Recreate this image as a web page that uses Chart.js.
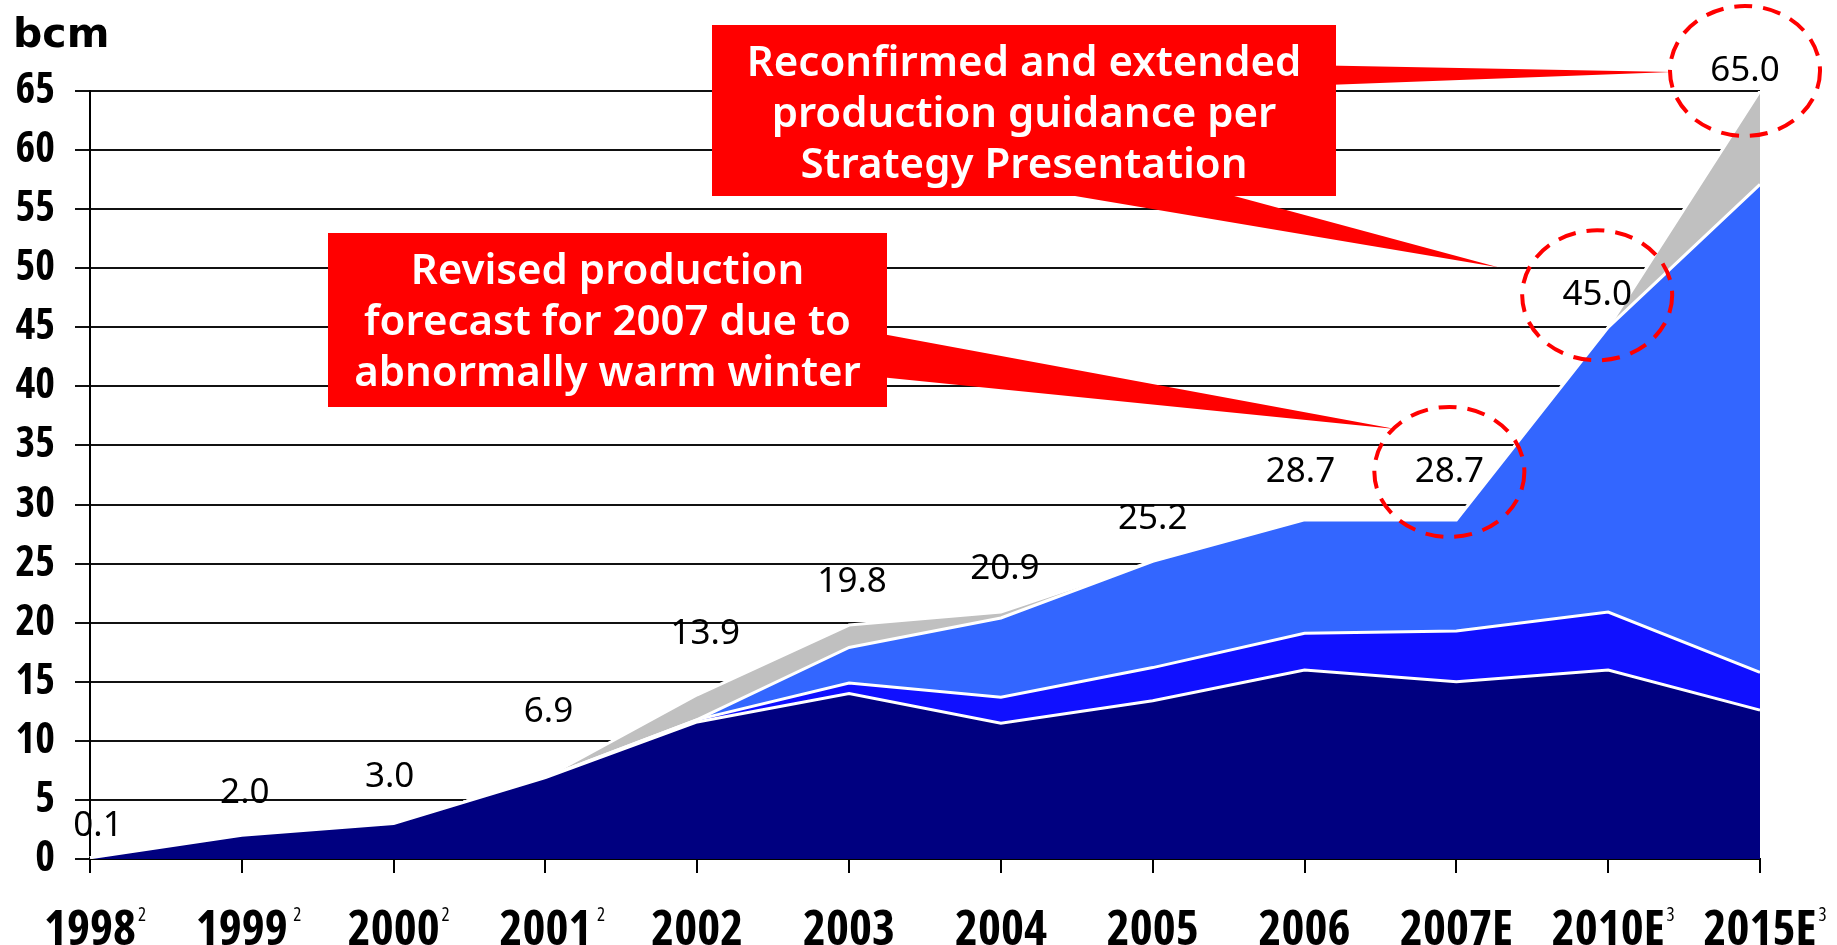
<!DOCTYPE html>
<html lang="en">
<head>
  <meta charset="UTF-8">
  <title>Production, bcm</title>
  <script src="https://cdn.jsdelivr.net/npm/chart.js"></script>
  <style>
    body {
      margin: 0;
      background: #fff;
    }

    canvas {
      display: block;
    }
  </style>
</head>
<body>
  <canvas id="prodChart" width="1837" height="945"></canvas>

  <script>
    // categories and footnote markers
    const years = ['1998', '1999', '2000', '2001', '2002', '2003', '2004', '2005', '2006', '2007E', '2010E', '2015E'];
    const yearNotes = ['2', ' 2', '2', ' 2', '', '', '', '', '', '', '3', '3'];

    // stacked layers, bottom to top (bcm)
    const seriesNavy = [0.1, 2.0, 3.0, 6.9, 11.6, 14.0, 11.5, 13.4, 16.0, 15.0, 16.0, 12.6];
    const seriesBlue = [0, 0, 0, 0, 0.2, 0.9, 2.2, 2.8, 3.1, 4.3, 4.9, 3.2];
    const seriesLightBlue = [0, 0, 0, 0, 0, 3.0, 6.7, 9.0, 9.6, 9.4, 24.1, 41.3];
    const seriesGrey = [0, 0, 0, 0, 2.1, 1.9, 0.5, 0, 0, 0, 0, 7.9];

    // labelled totals
    const totals = [0.1, 2.0, 3.0, 6.9, 13.9, 19.8, 20.9, 25.2, 28.7, 28.7, 45.0, 65.0];

    // y axis
    const yMin = 0;
    const yMax = 65;
    const yStep = 5;

    // callout texts
    const calloutRevised = ['Revised production', 'forecast for 2007 due to', 'abnormally warm winter'];
    const calloutGuidance = ['Reconfirmed and extended', 'production guidance per', 'Strategy Presentation'];

    // ---- layout (pixels) ----
    const labelNudge = [[8, -32], [3, -42], [-4, -47], [3, -65], [8, -61], [3, -43], [4, -43], [0, -42], [-4, -48], [-7, -48], [-11, -32], [-15, -20]];
    const circled = [9, 10, 11];

    const boxes = [
      { x: 328, y: 233, w: 559, h: 174, lines: calloutRevised },
      { x: 712, y: 25, w: 624, h: 171, lines: calloutGuidance }
    ];
    // wedge base points (under the boxes) and tip offset from the circled label
    const wedges = [
      { base: [[850, 328], [850, 374]], target: 9, tip: [-54, -43] },
      { base: [[980, 180], [1175, 180]], target: 10, tip: [-99, -28] },
      { base: [[1300, 65], [1300, 86]], target: 11, tip: [-73, 1] }
    ];

    // the axis labels use a tall narrow bold face; take whichever installed one fits best
    function pickNarrowBold() {
      const c = document.createElement('canvas').getContext('2d');
      const candidates = [
        { weight: 'bold', stretch: '', family: "'Liberation Sans Narrow'" },
        { weight: 'bold', stretch: 'condensed', family: "'Liberation Sans'" },
        { weight: 'bold', stretch: 'condensed', family: "'Noto Sans'" },
        { weight: 'bold', stretch: 'condensed', family: "'Open Sans'" },
        { weight: 'bold', stretch: 'condensed', family: "'DejaVu Sans'" },
        { weight: 'bold', stretch: '', family: "'DejaVu Sans Condensed'" },
        { weight: 'bold', stretch: '', family: "'Liberation Sans'" }
      ];
      let best = null;
      candidates.forEach(f => {
        c.font = `${f.weight} ${f.stretch} 100px ${f.family}`.replace(/\s+/g, ' ');
        const m = c.measureText('2002');
        const cap = m.actualBoundingBoxAscent;
        const score = Math.abs(m.width / cap - 2.7);
        if (!best || score < best.score) best = Object.assign({ score: score, cap: cap / 100 }, f);
      });
      return best;
    }

    const narrow = pickNarrowBold();
    const narrowWeight = `${narrow.weight} ${narrow.stretch}`.trim();
    const xFontSize = Math.round(36 / narrow.cap);
    const yFontSize = Math.round(30.5 / narrow.cap);
    const axisFontX = { family: narrow.family, size: xFontSize, weight: narrowWeight };
    const axisFontY = { family: narrow.family, size: yFontSize, weight: narrowWeight };

    // padding so the year labels' cap tops sit at y = 909
    const xLabelPad = (() => {
      const c = document.createElement('canvas').getContext('2d');
      c.font = `${narrowWeight} ${xFontSize}px ${narrow.family}`;
      c.textBaseline = 'middle';
      const asc = c.measureText('2002').actualBoundingBoxAscent;
      return Math.round(909 - 873 - xFontSize * 0.6 + asc);
    })();

    function labelPos(chart, i) {
      const { x, y } = chart.scales;
      return [x.getPixelForValue(i) + labelNudge[i][0], y.getPixelForValue(totals[i]) + labelNudge[i][1]];
    }

    const overlay = {
      id: 'overlay',
      afterDraw(chart) {
        const ctx = chart.ctx;
        const xs = chart.scales.x;
        ctx.save();

        // unit
        ctx.fillStyle = '#000';
        ctx.font = 'bold 41px "DejaVu Sans"';
        ctx.textAlign = 'left';
        ctx.textBaseline = 'alphabetic';
        ctx.fillText('bcm', 13, 47);

        // footnote superscripts on the year labels
        years.forEach((yr, i) => {
          if (!yearNotes[i]) return;
          ctx.font = `${narrowWeight} ${xFontSize}px ${narrow.family}`;
          const w = ctx.measureText(yr).width;
          ctx.font = `${narrow.stretch} 19px ${narrow.family}`.trim();
          ctx.textBaseline = 'top';
          ctx.textAlign = 'left';
          ctx.fillText(yearNotes[i], xs.getPixelForValue(i) + w / 2 + 2, 906);
        });

        // callout wedges
        ctx.fillStyle = '#ff0000';
        wedges.forEach(wd => {
          const c = labelPos(chart, wd.target);
          ctx.beginPath();
          ctx.moveTo(wd.base[0][0], wd.base[0][1]);
          ctx.lineTo(c[0] + wd.tip[0], c[1] + wd.tip[1]);
          ctx.lineTo(wd.base[1][0], wd.base[1][1]);
          ctx.closePath();
          ctx.fill();
        });

        // callout boxes
        boxes.forEach(b => {
          ctx.fillStyle = '#ff0000';
          ctx.fillRect(b.x, b.y, b.w, b.h);
          ctx.fillStyle = '#fff';
          ctx.font = '600 42px "Noto Sans"';
          ctx.textAlign = 'center';
          ctx.textBaseline = 'alphabetic';
          b.lines.forEach((line, k) => {
            ctx.fillText(line, b.x + b.w / 2, b.y + 51 + k * 51);
          });
        });

        // total labels
        ctx.fillStyle = '#000';
        ctx.font = '35px "Noto Sans"';
        ctx.textAlign = 'center';
        ctx.textBaseline = 'middle';
        totals.forEach((v, i) => {
          const p = labelPos(chart, i);
          ctx.fillText(v.toFixed(1), p[0], p[1]);
        });

        // dashed circles
        ctx.strokeStyle = '#ff0000';
        ctx.lineWidth = 4;
        ctx.setLineDash([18, 11]);
        circled.forEach(i => {
          const p = labelPos(chart, i);
          ctx.beginPath();
          ctx.ellipse(p[0], p[1], 75, 65, 0, 0, Math.PI * 2);
          ctx.stroke();
        });

        ctx.restore();
      }
    };

    const layer = (data, colour, fill) => ({
      data: data,
      backgroundColor: colour,
      borderColor: '#ffffff',
      borderWidth: 3,
      pointRadius: 0,
      tension: 0,
      fill: fill
    });

    new Chart(document.getElementById('prodChart'), {
      type: 'line',
      data: {
        labels: years,
        datasets: [
          layer(seriesNavy, '#000080', 'origin'),
          layer(seriesBlue, '#1010ff', '-1'),
          layer(seriesLightBlue, '#3366ff', '-1'),
          layer(seriesGrey, '#c0c0c0', '-1')
        ]
      },
      options: {
        responsive: false,
        animation: false,
        layout: {
          padding: { top: 91, right: 77, left: 0, bottom: 0 }
        },
        plugins: {
          legend: { display: false },
          tooltip: { enabled: false }
        },
        scales: {
          x: {
            offset: false,
            z: 1,
            grid: {
              drawOnChartArea: false,
              tickLength: 14,
              color: '#000',
              lineWidth: 2
            },
            border: { color: '#000', width: 2 },
            ticks: {
              color: '#000',
              font: axisFontX,
              padding: xLabelPad,
              maxRotation: 0,
              autoSkip: false
            },
            afterFit(scale) {
              scale.height = 86;
              scale.paddingLeft = 0;
              scale.paddingRight = 0;
            }
          },
          y: {
            stacked: true,
            min: yMin,
            max: yMax,
            grid: {
              color: '#111',
              lineWidth: 2,
              tickLength: 15
            },
            border: { color: '#000', width: 2 },
            ticks: {
              stepSize: yStep,
              color: '#000',
              font: axisFontY,
              padding: 20
            },
            afterFit(scale) {
              scale.width = 90;
              scale.paddingTop = 0;
              scale.paddingBottom = 0;
            }
          }
        }
      },
      plugins: [overlay]
    });
  </script>
</body>
</html>
